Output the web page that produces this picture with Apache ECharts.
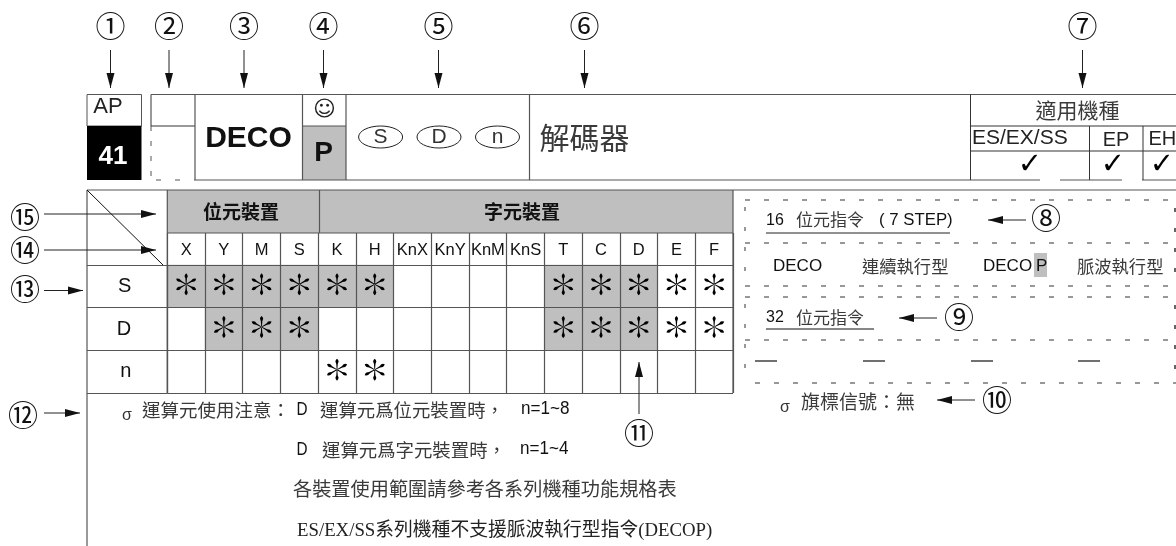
<!DOCTYPE html>
<html><head><meta charset="utf-8">
<style>html,body{margin:0;padding:0;background:#fff}#c{width:1176px;height:546px}</style>
<script src="https://cdn.jsdelivr.net/npm/echarts@6/dist/echarts.min.js"></script>
</head><body><div id="c"></div>
<script>
// ---- table content ----
const devices = ['X','Y','M','S','K','H','KnX','KnY','KnM','KnS','T','C','D','E','F'];
const operands = ['S','D','n'];
const allowedS = ['X','Y','M','S','K','H','T','C','D','E','F'];
const allowedD = ['Y','M','S','T','C','D','E','F'];
const allowedN = ['K','H'];
const shadedS = ['X','Y','M','S','K','H','T','C','D'];
const shadedD = ['Y','M','S','T','C','D'];
const shadedN = [];
const models = ['ES/EX/SS','EP','EH'];
const noteLines = ['運算元使用注意：','運算元爲位元裝置時，','n=1~8','運算元爲字元裝置時，','n=1~4','各裝置使用範圍請參考各系列機種功能規格表','ES/EX/SS系列機種不支援脈波執行型指令(DECOP)'];

// ---- helpers ----
const SANS = '"Liberation Sans","Noto Sans CJK TC",sans-serif';
const CJK = '"Noto Sans CJK TC",sans-serif';
const SERIF = '"Liberation Serif","Noto Sans CJK TC",serif';
const LINE = '#555';
const INK = '#3a3a3a';
const G = [];
function T(x,y,text,size,o){o=o||{};
  const sc=o.sx||o.sy;
  G.push({type:'text',z:o.z||20,scaleX:o.sx||1,scaleY:o.sy||1,x:sc?x:0,y:sc?y:0,
    style:{x:sc?0:x,y:sc?0:y,text:text,fill:o.fill||'#222',
    font:(o.bold?'bold ':'')+size+'px '+(o.family||SANS),align:o.align||'center',verticalAlign:'middle'}});}
function L(x1,y1,x2,y2,o){o=o||{};
  G.push({type:'line',z:o.z||10,shape:{x1,y1,x2,y2},style:{stroke:o.color||LINE,lineWidth:o.w||1.2,lineDash:o.dash||null}});}
function R(x,y,w,h,fill,o){o=o||{};
  G.push({type:'rect',z:o.z||5,shape:{x,y,width:w,height:h},style:{fill:fill,stroke:o.stroke||null,lineWidth:o.w||1}});}
function ARW(x1,y1,x2,y2){
  L(x1,y1,x2,y2,{color:'#222',w:1});
  const dx=Math.sign(x2-x1),dy=Math.sign(y2-y1),len=15,hw=4;
  const pts = dx? [[x2,y2],[x2-dx*len,y2-hw],[x2-dx*len,y2+hw]] : [[x2,y2],[x2-hw,y2-dy*len],[x2+hw,y2-dy*len]];
  G.push({type:'polygon',z:12,shape:{points:pts},style:{fill:'#111'}});}
function CIRC(x,y,ch){G.push({type:'text',z:20,style:{x:x,y:y,text:ch,fill:'#111',font:'30px "Noto Sans CJK TC"',align:'center',verticalAlign:'middle'}});}
function asteriskPath(){
  const prof=[[2,1.6],[26,3.2],[37,7],[44,5],[50,0]];
  let d='';
  for(let k=0;k<6;k++){
    const a=k*Math.PI/3, c=Math.cos(a), s=Math.sin(a);
    const pts=prof.map(p=>[p[0],p[1]]).concat(prof.slice(0,4).reverse().map(p=>[p[0],-p[1]]));
    pts.forEach((p,i)=>{
      const X=50+p[1]*c+p[0]*s, Y=50-p[0]*c+p[1]*s;
      d+=(i?'L':'M')+X.toFixed(2)+' '+Y.toFixed(2);
    });
    d+='Z';
  }
  return 'path://'+d;
}

// ---- top strip ----
const TOP=94.5, MID=126, BOT=180;
[['①',110.5],['②',169],['③',244],['④',323.5],['⑤',438.5],['⑥',584.5],['⑦',1082.5]].forEach(c=>{CIRC(c[1],26,c[0]);ARW(c[1],50,c[1],88);});
R(87,TOP,54.5,MID-TOP,'#fff',{stroke:LINE});
R(87,MID,54.5,BOT-MID,'#000');
T(108,107,'AP',22);
T(113,157,'41',26,{bold:true,fill:'#fff'});
L(151,TOP,1176,TOP);
L(151,TOP,151,MID);
L(151,MID,195,MID,{color:'#333',w:1});
L(151,MID,151,BOT,{dash:[5,10],w:1});
L(156,BOT,195,BOT,{dash:[5,14],w:1,color:'#555'});
L(195,TOP,195,BOT);
L(195,BOT,1040,BOT);L(1060,BOT,1122,BOT);L(1142,BOT,1176,BOT);
L(302.5,TOP,302.5,BOT);L(346,TOP,346,BOT);L(529.5,TOP,529.5,BOT);L(970.5,TOP,970.5,BOT,{color:'#333',w:1});
T(248.5,139,'DECO',30,{bold:true,fill:'#111'});
T(324.5,110,'☺',22,{family:'"DejaVu Sans"',fill:'#222'});
L(302.5,MID,346,MID);
R(302.5,MID,43.5,BOT-MID,'#bfbfbf');
T(323.5,153,'P',28,{bold:true,fill:'#111'});
[['S',380.6],['D',439],['n',497.5]].forEach(o=>{
  G.push({type:'ellipse',z:12,shape:{cx:o[1],cy:137,rx:22,ry:11},style:{fill:'#fff',stroke:'#222',lineWidth:1}});
  T(o[1],137,o[0],21,{fill:'#333'});
});
T(584.5,138,'解碼器',30,{family:CJK,fill:INK});
L(970.5,MID,1176,MID,{color:'#333',w:1});
L(970.5,151,1176,151,{color:'#333',w:1});
L(1089.5,MID,1089.5,BOT,{color:'#333',w:1});
L(1143,MID,1143,BOT,{color:'#333',w:1});
T(1077.5,110,'適用機種',21,{family:CJK,fill:INK});
T(972,138,models[0],21,{align:'left'});
T(1116,140,models[1],20);
T(1148.5,139,models[2],20,{align:'left'});
[1030,1113,1162].forEach(x=>T(x,165,'✓',29,{family:'"DejaVu Sans"',fill:'#000',bold:true}));

// ---- device table surround ----
const TL=87, TR=733, GT=265, GB=393, HT=190, HB=233, GL=167.3;
R(GL,HT,TR-GL,HB-HT,'#bfbfbf',{z:1});
L(TL,HT,1176,HT);
L(GL,HT,GL,GB,{z:10});
L(319.5,HT,319.5,HB);
L(GL,HB,TR,HB);
L(TL,HT,TL,546,{z:10});
L(TR,HT,TR,GB,{z:10});
L(TL,HT,163,GT,{color:'#111',w:1});
T(241,212,'位元裝置',19,{family:CJK,bold:true,fill:'#111'});
T(522,212,'字元裝置',19,{family:CJK,bold:true,fill:'#111'});
[['⑮',217,214,156],['⑭',250,250,156],['⑬',289,290.5,83]].forEach(c=>{CIRC(25,c[1],c[0]);ARW(44,c[2],c[3],c[2]);});
CIRC(23,415,'⑫');ARW(44,413,80,413);
CIRC(639,433,'⑪');ARW(639,414,639,362);

// ---- notes ----
T(127,416,'σ',16,{fill:'#333',family:'"Liberation Sans"'});
T(142,410,noteLines[0],18.5,{align:'left',family:CJK,fill:INK});
T(302,410,'D',18,{fill:'#111',sx:0.85});
T(320,410,noteLines[1],18.4,{align:'left',family:CJK,fill:INK});
T(521,409,noteLines[2],18,{align:'left',fill:'#111',sx:0.95});
T(302,450,'D',18,{fill:'#111',sx:0.85});
T(322,450,noteLines[3],18.4,{align:'left',family:CJK,fill:INK});
T(520,449,noteLines[4],18,{align:'left',fill:'#111',sx:0.95});
T(293,489,noteLines[5],19.2,{align:'left',family:CJK,fill:INK});
T(297,531,noteLines[6],18.8,{align:'left',family:SERIF,fill:'#222'});

// ---- right panel ----
[[200,745],[243,745],[286,745],[297,745],[340,745],[383,755]].forEach(d=>L(d[1],d[0],1176,d[0],{dash:[5,14],w:1,color:'#333'}));
[[200,286],[297,383]].forEach(s=>{L(745,s[0]+7,745,s[1],{dash:[4,16],w:1,color:'#333'});L(1175,s[0]+8,1175,s[1],{dash:[4,16],w:1.5,color:'#333'});});
T(766,221,'16',16,{align:'left',fill:'#111'});
T(796,220,'位元指令',17,{align:'left',family:CJK,fill:INK});
T(879,220,'( 7 STEP)',16.8,{align:'left',fill:'#111'});
L(766,233,950,233,{color:'#222'});
ARW(1026,220,988,220);CIRC(1046,218,'⑧');
T(773,266,'DECO',17,{align:'left',fill:'#111'});
T(862,266,'連續執行型',17.3,{align:'left',family:CJK,fill:INK});
R(1034,253,13,24,'#bfbfbf',{z:6});
T(983,266,'DECO',17,{align:'left',fill:'#111'});
T(1036,266,'P',17,{align:'left',fill:'#111'});
T(1077,266,'脈波執行型',17.3,{align:'left',family:CJK,fill:INK});
T(766,318,'32',16,{align:'left',fill:'#111'});
T(796,318,'位元指令',17,{align:'left',family:CJK,fill:INK});
L(766,329,874,329,{color:'#111'});
ARW(937,318,899,318);CIRC(959,317,'⑨');
[755,863,971,1078].forEach(x=>L(x,361,x+22,361,{color:'#111'}));
T(785,408,'σ',16,{fill:'#333',family:'"Liberation Sans"'});
T(801,402,'旗標信號：無',19,{align:'left',family:CJK,fill:INK});
ARW(975,400,937,400);CIRC(997,400,'⑩');

// ---- marks ----
const lists=[allowedS,allowedD,allowedN], shades=[shadedS,shadedD,shadedN];
const heat=[],stars=[];
operands.forEach((op,r)=>{
  shades[r].forEach(d=>heat.push([d,op,1]));
  lists[r].forEach(d=>stars.push([d,op]));
});

const chart=echarts.init(document.getElementById('c'),null,{renderer:'canvas'});
chart.setOption({
  animation:false,backgroundColor:'#fff',
  grid:{left:GL,top:GT,width:TR-GL,height:GB-GT,containLabel:false},
  xAxis:{type:'category',position:'top',data:devices,z:3,
    axisLine:{show:true,lineStyle:{color:LINE,width:1.2}},
    axisTick:{show:true,length:GT-HB,lineStyle:{color:LINE,width:1.2}},
    axisLabel:{interval:0,color:'#111',fontSize:16.5,fontFamily:'Liberation Sans',margin:6},
    splitLine:{show:true,interval:0,lineStyle:{color:LINE,width:1.2}}},
  yAxis:{type:'category',inverse:true,data:operands,z:3,
    axisLine:{show:true,lineStyle:{color:LINE,width:1.2}},
    axisTick:{show:true,length:GL-TL,lineStyle:{color:LINE,width:1.2}},
    axisLabel:{interval:0,color:'#111',fontSize:20,fontFamily:'Liberation Sans',margin:36},
    splitLine:{show:true,interval:0,lineStyle:{color:LINE,width:1.2}}},
  visualMap:{show:false,min:0,max:1,dimension:2,seriesIndex:0,inRange:{color:['#bfbfbf','#bfbfbf']}},
  series:[
    {type:'heatmap',data:heat,z:1,itemStyle:{borderWidth:0}},
    {type:'scatter',data:stars,z:4,symbol:asteriskPath(),symbolSize:[20,22],symbolOffset:[0,-2],silent:true,
      itemStyle:{color:'#000',opacity:1}}
  ],
  graphic:{elements:G}
});
</script></body></html>
